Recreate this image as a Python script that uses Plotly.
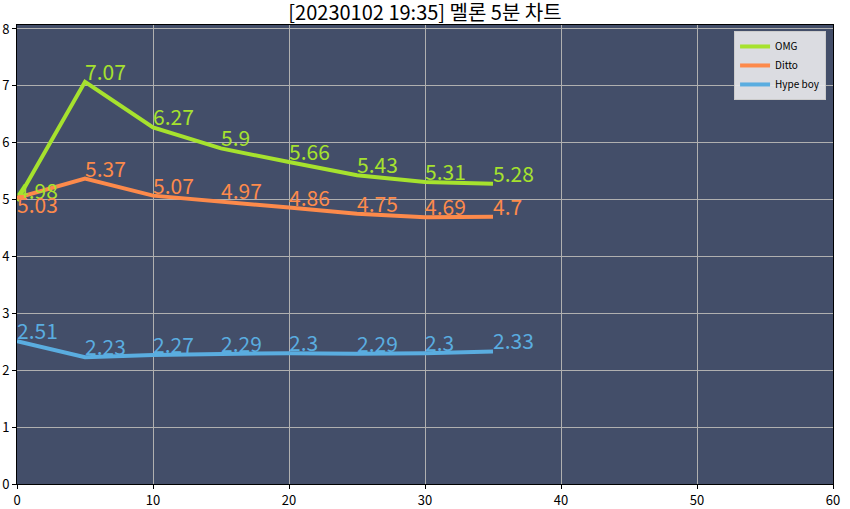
import plotly.graph_objects as go

times = [0, 5, 10, 15, 20, 25, 30, 35]
omg = [4.98, 7.07, 6.27, 5.9, 5.66, 5.43, 5.31, 5.28]
ditto = [5.03, 5.37, 5.07, 4.97, 4.86, 4.75, 4.69, 4.7]
hypeboy = [2.51, 2.23, 2.27, 2.29, 2.3, 2.29, 2.3, 2.33]

series = [("OMG", omg, "#a6e22e"), ("Ditto", ditto, "#fd8a4b"), ("Hype boy", hypeboy, "#5aade0")]
title = "[20230102 19:35] 멜론 5분 차트"
FONT = "Noto Sans CJK KR"

fig = go.Figure()
placed = []
for name, vals, col in series:
    fig.add_trace(go.Scatter(x=times, y=vals, mode="lines", name=name,
                             line=dict(color=col, width=4)))
    for x, y in zip(times, vals):
        shift = -6
        # push a label down when it would sit on top of an earlier label at the same x
        if any(px == x and abs(py - y) < 0.2 for px, py in placed):
            shift = -23
        placed.append((x, y))
        fig.add_annotation(x=x, y=y, text=f"{y:g}", showarrow=False,
                           xanchor="left", yanchor="bottom", yshift=shift, xshift=-2,
                           font=dict(family=FONT, size=21, color=col))

fig.update_layout(
    width=850, height=509,
    margin=dict(l=17, r=17, t=25, b=25, autoexpand=False),
    paper_bgcolor="white", plot_bgcolor="#434e69",
    font=dict(family=FONT, size=13, color="black"),
    title=dict(text=title, x=0.5, xanchor="center", y=0.974, yanchor="middle",
               font=dict(family=FONT, size=20, color="black")),
    showlegend=True,
    legend=dict(x=0.9915, y=0.987, xanchor="right", yanchor="top",
                bgcolor="rgba(232,232,235,0.92)", bordercolor="#cccccc", borderwidth=1,
                font=dict(family=FONT, size=10, color="black"),
                itemwidth=30, tracegroupgap=0),
)
fig.update_xaxes(range=[0, 60], tickvals=[0, 10, 20, 30, 40, 50, 60], automargin=False,
                 showgrid=True, gridcolor="#b0b0b0", gridwidth=1,
                 showline=True, linecolor="black", linewidth=1, mirror=True,
                 ticks="outside", ticklen=4, tickcolor="black", zeroline=False,
                 tickfont=dict(size=13))
fig.update_yaxes(range=[0, 8.07], tickvals=[0, 1, 2, 3, 4, 5, 6, 7, 8], automargin=False,
                 showgrid=True, gridcolor="#b0b0b0", gridwidth=1,
                 showline=True, linecolor="black", linewidth=1, mirror=True,
                 ticks="outside", ticklen=4, tickcolor="black", zeroline=False,
                 tickfont=dict(size=13))

fig.write_html("out.html", config={"displayModeBar": False},
               post_script="document.body.style.margin='0';document.body.style.overflow='hidden';")
